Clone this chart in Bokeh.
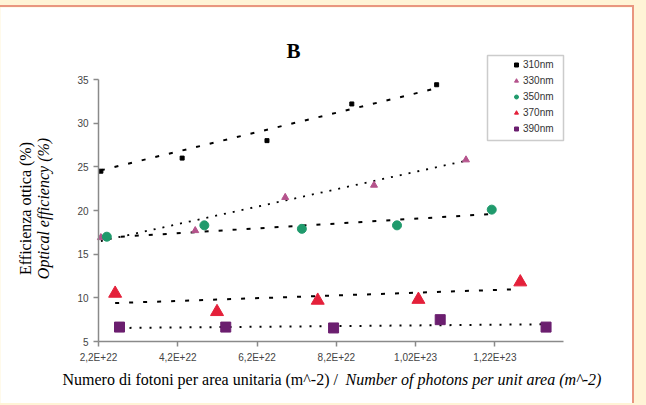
from bokeh.plotting import figure
from bokeh.models import (Label, Legend, LegendItem, FixedTicker, LinearAxis,
                          CustomJSTickFormatter, Range1d, BoxAnnotation)
from bokeh.layouts import column
from bokeh.embed import file_html
from bokeh.resources import INLINE

# ---- data (photons per m^2, optical efficiency %) ----
series_names = ["310nm", "330nm", "350nm", "370nm", "390nm"]

x_310 = [2.26e22, 4.31e22, 6.45e22, 8.59e22, 1.073e23]
y_310 = [24.5, 26.0, 28.0, 32.2, 34.4]

x_330 = [2.26e22, 4.64e22, 6.91e22, 9.15e22, 1.147e23]
y_330 = [16.9, 17.7, 21.5, 22.9, 25.8]

x_350 = [2.41e22, 4.87e22, 7.33e22, 9.73e22, 1.212e23]
y_350 = [17.0, 18.3, 17.9, 18.3, 20.1]

x_370 = [2.62e22, 5.19e22, 7.73e22, 1.027e23, 1.284e23]
y_370 = [10.5, 8.4, 9.7, 9.8, 11.8]

x_390 = [2.73e22, 5.41e22, 8.13e22, 1.082e23, 1.349e23]
y_390 = [6.65, 6.65, 6.55, 7.5, 6.65]

# trendline end values
trend_310 = [24.6, 34.0]
trend_330 = [16.5, 25.7]
trend_350 = [16.9, 19.6]
trend_370 = [9.4, 11.0]
trend_390 = [6.55, 6.97]

x_ticks = [2.2e22, 4.2e22, 6.2e22, 8.2e22, 1.02e23, 1.22e23]
y_ticks = [5, 10, 15, 20, 25, 30, 35]
x_axis_bounds = (2.2e22, 1.393e23)
y_axis_bounds = (5, 35)

# ---- layout (pixels) ----
W, H = 634, 398          # canvas (white panel) size
AX_L, AX_R = 98, 563     # x pixel of axis start / end
AX_T, AX_B = 72, 334     # y pixel (from canvas top) of 35 / 5

CREAM = "#FFF4D6"
SALMON = "#E9967F"

# ranges chosen so that the whole canvas is the frame, axes sit at AX_*
xs = (x_axis_bounds[1] - x_axis_bounds[0]) / (AX_R - AX_L)
ys = (y_axis_bounds[1] - y_axis_bounds[0]) / (AX_B - AX_T)
x_range = Range1d(x_axis_bounds[0] - AX_L * xs, x_axis_bounds[1] + (W - AX_R) * xs)
y_range = Range1d(y_axis_bounds[0] - (H - AX_B) * ys, y_axis_bounds[1] + AX_T * ys)

p = figure(width=W, height=H, output_backend="svg", toolbar_location=None,
           x_range=x_range, y_range=y_range,
           x_axis_location=None, y_axis_location=None,
           min_border=0, background_fill_color="white",
           border_fill_color="white", outline_line_color=None,
           margin=(5, 10, 0, 0),
           styles={"border-top": "2px solid " + SALMON,
                   "border-right": "2px solid " + SALMON})
p.grid.visible = False

xaxis = LinearAxis(fixed_location=y_axis_bounds[0], bounds=x_axis_bounds,
                   ticker=FixedTicker(ticks=x_ticks))
yaxis = LinearAxis(fixed_location=x_axis_bounds[0], bounds=y_axis_bounds,
                   ticker=FixedTicker(ticks=y_ticks))
for ax in (xaxis, yaxis):
    ax.axis_line_color = "#8a8a8a"
    ax.axis_line_width = 1.5
    ax.major_tick_line_color = "#8a8a8a"
    ax.major_tick_line_width = 1.5
    ax.major_tick_out = 5
    ax.major_tick_in = 0
    ax.minor_tick_line_color = None
    ax.major_label_text_font = "Liberation Sans"
    ax.major_label_text_font_size = "10px"
    ax.major_label_text_color = "#444444"
xaxis.formatter = CustomJSTickFormatter(code="""
const e = Math.floor(Math.log10(tick) + 1e-9);
let m = (tick / Math.pow(10, e)).toFixed(2).replace(/0+$/, '').replace(/\\.$/, '');
return m.replace('.', ',') + 'E+' + e;
""")
p.add_layout(xaxis, "below")
p.add_layout(yaxis, "left")

# trendlines
def tl(xv, yv, dash, width=2.0):
    p.line([xv[0], xv[-1]], yv, line_color="black", line_width=width,
           line_dash=dash)

tl(x_310, trend_310, "4 10")
tl(x_330, trend_330, "2 7", 1.8)
tl(x_350, trend_350, "4 10")
tl(x_370, trend_370, "4 10")
tl(x_390, trend_390, "2 8")

r310 = p.scatter(x_310, y_310, marker="square", size=4, color="black")
r330 = p.scatter(x_330, y_330, marker="triangle", size=7, color="#B5538C")
r350 = p.scatter(x_350, y_350, marker="circle", size=9, color="#1F9A6C")
r370 = p.scatter(x_370, y_370, marker="triangle", size=13, color="#E4203A")
r390 = p.scatter(x_390, y_390, marker="square", size=10, color="#6B1E6F")

# legend box (canvas pixels: left 487, right 563, top 55, bottom 140)
p.add_layout(BoxAnnotation(left=487, right=563, top=H - 48, bottom=H - 133,
                           left_units="screen", right_units="screen",
                           top_units="screen", bottom_units="screen",
                           fill_color="white", fill_alpha=1.0,
                           line_color="#555555", line_width=1.5,
                           level="annotation"))
legend = Legend(items=[LegendItem(label=n, renderers=[r]) for n, r in
                       zip(series_names, [r310, r330, r350, r370, r390])],
                location=(511, H - 128), orientation="vertical",
                border_line_color=None, background_fill_alpha=0.0,
                padding=0, spacing=3, margin=0,
                glyph_width=10, glyph_height=13, label_height=13,
                label_standoff=2, label_text_font="Liberation Sans",
                label_text_font_size="10px", label_text_color="#333333")
p.add_layout(legend, "center")

# texts (screen units: from canvas bottom-left)
serif = "Liberation Serif"
p.add_layout(Label(x=293, y=H - 43, x_units="screen", y_units="screen",
                   text="B", text_font=serif, text_font_style="bold",
                   text_font_size="21px", text_align="center",
                   text_baseline="middle", text_color="black"))
p.add_layout(Label(x=25, y=H - 201, x_units="screen", y_units="screen",
                   text="Efficienza ottica (%)", angle=1.5708,
                   text_font=serif, text_font_size="16px",
                   text_align="center", text_baseline="middle",
                   text_color="black"))
p.add_layout(Label(x=43, y=H - 201, x_units="screen", y_units="screen",
                   text="Optical efficiency (%)", angle=1.5708,
                   text_font=serif, text_font_style="italic",
                   text_font_size="16px", text_align="center",
                   text_baseline="middle", text_color="black"))
p.add_layout(Label(x=62, y=H - 372, x_units="screen", y_units="screen",
                   text="Numero di fotoni per area unitaria (m^-2) /",
                   text_font=serif, text_font_size="16px",
                   text_align="left", text_baseline="middle",
                   text_color="black"))
p.add_layout(Label(x=345, y=H - 372, x_units="screen", y_units="screen",
                   text="Number of photons per unit area (m^-2)",
                   text_font=serif, text_font_style="italic",
                   text_font_size="16px", text_align="left",
                   text_baseline="middle", text_color="black"))

page = column(p, width=646, height=405,
              styles={"background-color": CREAM})

open("out.html", "w").write(file_html(page, INLINE))
